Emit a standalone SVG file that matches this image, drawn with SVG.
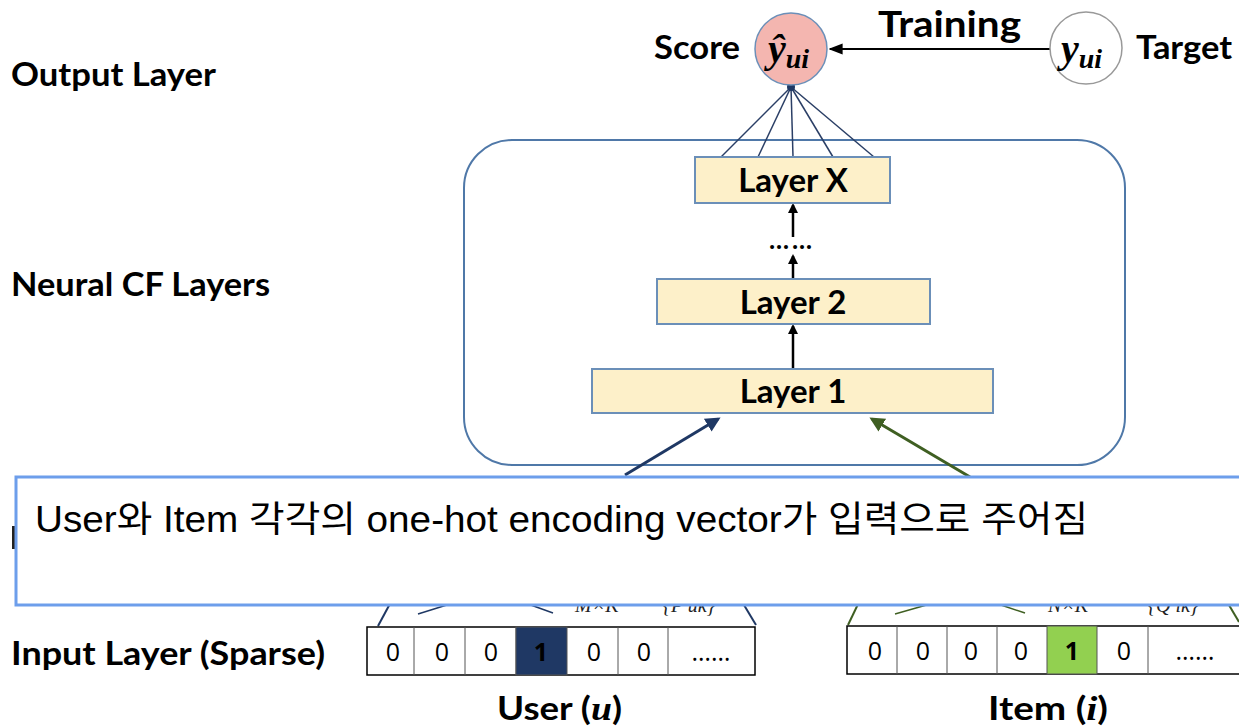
<svg xmlns="http://www.w3.org/2000/svg" width="1239" height="728" viewBox="0 0 1239 728">
  <defs>
    <style>
      .lbl { font-family: Lato, "Open Sans", sans-serif; font-weight: bold; fill: #000; }
      .layer { fill: #fdf0c9; stroke: #6b8fb8; stroke-width: 2; }
      .layer-text { font-family: Lato, "Open Sans", sans-serif; font-weight: bold; font-size: 33px; text-anchor: middle; fill: #000; }
      .math { font-family: "Liberation Serif", serif; font-style: italic; font-weight: bold; }
      .cell { fill: #fff; stroke: #000; stroke-width: 1.5; }
      .cellv { font-family: "Open Sans", "Liberation Sans", sans-serif; font-size: 25px; text-anchor: middle; fill: #000; }
      .frag { font-family: "Liberation Serif", serif; font-style: italic; font-size: 20px; fill: #222; }
      .fan { stroke: #2b3f66; stroke-width: 1.5; fill: none; }
      .up { stroke: #000; stroke-width: 2.5; fill: none; marker-end: url(#ahBlack); }
    </style>
    <marker id="ahBlack" viewBox="0 0 10 10" refX="8" refY="5" markerWidth="4" markerHeight="4" orient="auto">
      <path d="M0,0 L10,5 L0,10 z" fill="#000"/>
    </marker>
    <marker id="ahTrain" viewBox="0 0 10 10" refX="9" refY="5" markerWidth="7" markerHeight="7" orient="auto">
      <path d="M0,1 L10,5 L0,9 z" fill="#000"/>
    </marker>
    <marker id="ahNavy" viewBox="0 0 10 10" refX="8" refY="5" markerWidth="5" markerHeight="5" orient="auto">
      <path d="M0,0 L10,5 L0,10 z" fill="#1f3864"/>
    </marker>
    <marker id="ahGreen" viewBox="0 0 10 10" refX="8" refY="5" markerWidth="5" markerHeight="5" orient="auto">
      <path d="M0,0 L10,5 L0,10 z" fill="#3f5f22"/>
    </marker>
  </defs>

  <rect width="1239" height="728" fill="#fff"/>

  <!-- row labels -->
  <g id="row-labels">
    <text class="lbl" x="11" y="86" font-size="32" textLength="205" lengthAdjust="spacingAndGlyphs">Output Layer</text>
    <text class="lbl" x="11" y="296" font-size="32" textLength="259" lengthAdjust="spacingAndGlyphs">Neural CF Layers</text>
    <text class="lbl" x="11" y="665" font-size="32" textLength="314" lengthAdjust="spacingAndGlyphs">Input Layer (Sparse)</text>
    <!-- edge of a label hidden by the caption box -->
    <rect x="12" y="526" width="3" height="23" fill="#222"/>
  </g>

  <!-- neural CF container -->
  <g id="ncf-container">
    <rect x="464" y="140" width="661" height="325" rx="48" ry="48" fill="none" stroke="#4f78a8" stroke-width="2"/>
  </g>

  <!-- connectors -->
  <g id="connectors">
    <!-- fan from Layer X into the score node -->
    <line class="fan" x1="791" y1="87" x2="721" y2="157"/>
    <line class="fan" x1="791" y1="87" x2="758" y2="157"/>
    <line class="fan" x1="791" y1="87" x2="793" y2="157"/>
    <line class="fan" x1="791" y1="87" x2="833" y2="157"/>
    <line class="fan" x1="791" y1="87" x2="874" y2="157"/>
    <circle cx="791" cy="87" r="4" fill="#1f3864"/>
    <!-- training signal -->
    <line x1="1050" y1="49" x2="830" y2="49" stroke="#000" stroke-width="2" marker-end="url(#ahTrain)"/>
    <!-- stacked layer arrows -->
    <line class="up" x1="793" y1="237" x2="793" y2="205"/>
    <line class="up" x1="793" y1="278" x2="793" y2="256"/>
    <line class="up" x1="793" y1="368" x2="793" y2="326"/>
    <!-- embeddings into Layer 1 -->
    <line x1="625" y1="475" x2="718" y2="419" stroke="#1f3864" stroke-width="3" marker-end="url(#ahNavy)"/>
    <line x1="970" y1="477" x2="872" y2="419" stroke="#3f5f22" stroke-width="3" marker-end="url(#ahGreen)"/>
    <!-- embedding trapezoid edges, mostly behind the caption box -->
    <line x1="378" y1="626" x2="392" y2="600" stroke="#1f3864" stroke-width="2"/>
    <line x1="418" y1="614" x2="450" y2="604" stroke="#1f3864" stroke-width="1.5"/>
    <line x1="528" y1="604" x2="553" y2="613" stroke="#1f3864" stroke-width="1.5"/>
    <line x1="741" y1="600" x2="756" y2="625" stroke="#1f3864" stroke-width="2"/>
    <line x1="848" y1="625" x2="860" y2="600" stroke="#3f5f22" stroke-width="2"/>
    <line x1="895" y1="614" x2="930" y2="604" stroke="#3f5f22" stroke-width="1.5"/>
    <line x1="998" y1="604" x2="1025" y2="613" stroke="#3f5f22" stroke-width="1.5"/>
    <line x1="1226" y1="600" x2="1239" y2="622" stroke="#3f5f22" stroke-width="2"/>
    <text class="frag" x="575" y="612">M×K</text>
    <text class="frag" x="663" y="612">{P uk}</text>
    <text class="frag" x="1048" y="612">N×K</text>
    <text class="frag" x="1148" y="612">{Q ik}</text>
  </g>

  <!-- score node -->
  <g id="score">
    <text class="lbl" x="654" y="59" font-size="33" textLength="86" lengthAdjust="spacingAndGlyphs">Score</text>
    <circle cx="791" cy="49" r="36" fill="#f4b6b0" stroke="#6b8fb8" stroke-width="1.5"/>
    <text class="math" x="768" y="62" font-size="40">ŷ<tspan font-size="28" dy="6">ui</tspan></text>
  </g>

  <!-- target node -->
  <g id="target">
    <circle cx="1086" cy="48" r="36" fill="#fff" stroke="#999" stroke-width="1.5"/>
    <text class="math" x="1061" y="62" font-size="40">y<tspan font-size="28" dy="6">ui</tspan></text>
    <text class="lbl" x="1136" y="59" font-size="33" textLength="96" lengthAdjust="spacingAndGlyphs">Target</text>
  </g>

  <g id="training-label">
    <text class="lbl" x="878" y="37" font-size="37" textLength="143" lengthAdjust="spacingAndGlyphs">Training</text>
  </g>

  <!-- hidden layers -->
  <g id="layer-x">
    <rect class="layer" x="695" y="157" width="195" height="46"/>
    <text class="layer-text" x="793" y="192">Layer X</text>
  </g>
  <g id="ellipsis">
    <text x="792" y="249" font-family="Lato, sans-serif" font-weight="bold" font-size="26" text-anchor="middle" letter-spacing="3">……</text>
  </g>
  <g id="layer-2">
    <rect class="layer" x="657" y="279" width="273" height="45"/>
    <text class="layer-text" x="793" y="314">Layer 2</text>
  </g>
  <g id="layer-1">
    <rect class="layer" x="592" y="369" width="401" height="44"/>
    <text class="layer-text" x="793" y="403">Layer 1</text>
  </g>

  <!-- caption box -->
  <g id="caption">
    <rect x="16" y="477" width="1240" height="128" fill="#fff" stroke="#6d9eeb" stroke-width="3"/>
    <text x="35" y="532" font-family="'Liberation Sans', 'Noto Sans CJK KR', sans-serif" font-size="36" fill="#000" textLength="1053" lengthAdjust="spacingAndGlyphs">User와 Item 각각의 one-hot encoding vector가 입력으로 주어짐</text>
  </g>

  <!-- user one-hot vector -->
  <g id="user-vector">
    <rect class="cell" x="367" y="627" width="388" height="48"/>
    <line x1="414" y1="627" x2="414" y2="675" stroke="#555" stroke-width="1"/>
    <line x1="465" y1="627" x2="465" y2="675" stroke="#555" stroke-width="1"/>
    <line x1="516" y1="627" x2="516" y2="675" stroke="#555" stroke-width="1"/>
    <line x1="618" y1="627" x2="618" y2="675" stroke="#555" stroke-width="1"/>
    <line x1="668" y1="627" x2="668" y2="675" stroke="#555" stroke-width="1"/>
    <rect x="516" y="627" width="51" height="48" fill="#1f3864" stroke="#555" stroke-width="1"/>
    <text class="cellv" x="393" y="661">0</text>
    <text class="cellv" x="442" y="661">0</text>
    <text class="cellv" x="491" y="661">0</text>
    <text class="cellv" x="541" y="661" fill="#fff" font-weight="bold">1</text>
    <text class="cellv" x="594" y="661">0</text>
    <text class="cellv" x="644" y="661">0</text>
    <text class="cellv" x="711" y="661" font-size="20">……</text>
    <text class="lbl" x="497" y="720" font-size="33" textLength="125" lengthAdjust="spacingAndGlyphs">User (<tspan class="math" font-size="34">u</tspan>)</text>
  </g>

  <!-- item one-hot vector -->
  <g id="item-vector">
    <rect class="cell" x="847" y="626" width="400" height="48"/>
    <line x1="897" y1="626" x2="897" y2="674" stroke="#555" stroke-width="1"/>
    <line x1="947" y1="626" x2="947" y2="674" stroke="#555" stroke-width="1"/>
    <line x1="997" y1="626" x2="997" y2="674" stroke="#555" stroke-width="1"/>
    <line x1="1148" y1="626" x2="1148" y2="674" stroke="#555" stroke-width="1"/>
    <rect x="1047" y="626" width="50" height="48" fill="#92d050" stroke="#555" stroke-width="1"/>
    <text class="cellv" x="875" y="660">0</text>
    <text class="cellv" x="923" y="660">0</text>
    <text class="cellv" x="971" y="660">0</text>
    <text class="cellv" x="1021" y="660">0</text>
    <text class="cellv" x="1072" y="660" font-weight="bold">1</text>
    <text class="cellv" x="1124" y="660">0</text>
    <text class="cellv" x="1195" y="660" font-size="20">……</text>
    <text class="lbl" x="988" y="720" font-size="33" textLength="120" lengthAdjust="spacingAndGlyphs">Item (<tspan class="math" font-size="34">i</tspan>)</text>
  </g>
</svg>
